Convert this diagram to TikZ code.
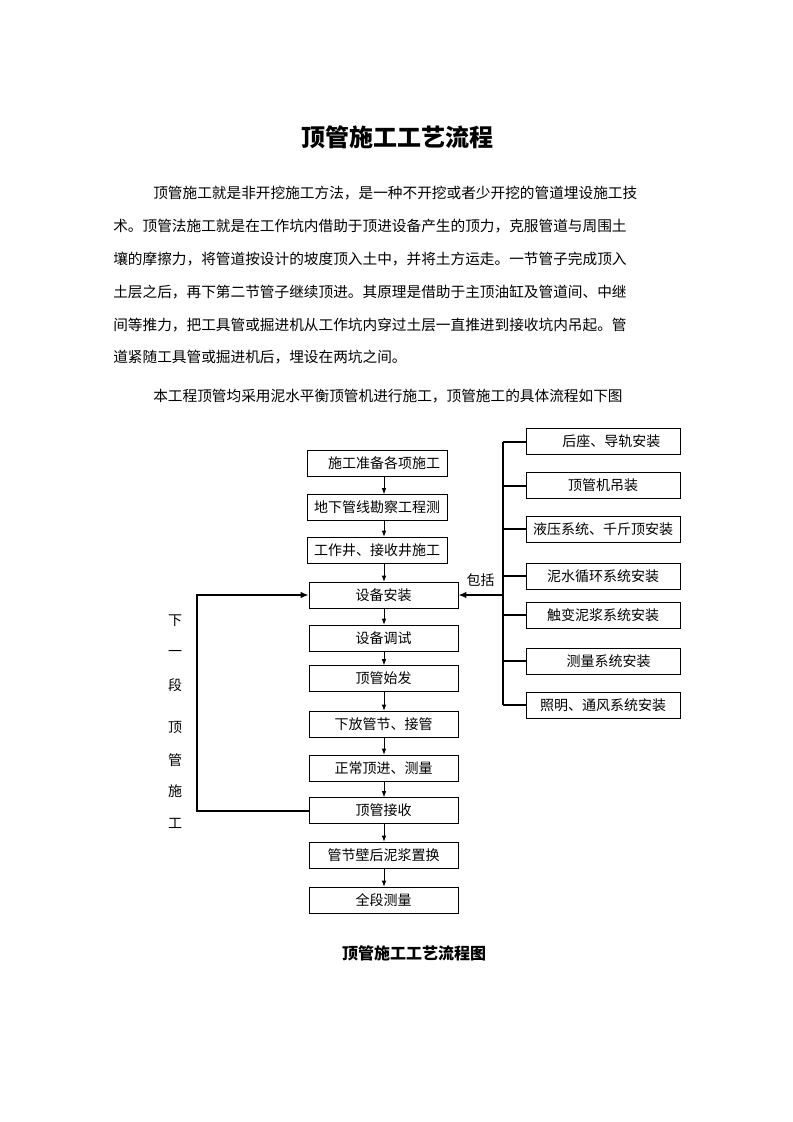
\documentclass[tikz,border=0pt]{standalone}
\usepackage{fontspec}
\setmainfont{Noto Sans CJK SC}
\XeTeXlinebreaklocale "zh"
\XeTeXlinebreakskip=0pt plus 1pt
\usetikzlibrary{arrows.meta}
\begin{document}
\begin{tikzpicture}[x=0.75pt,y=-0.75pt,
  para/.style={font=\fontsize{11}{13}\selectfont,inner sep=0pt,anchor=west},
  mbox/.style={draw,line width=0.6pt,minimum width=111.75pt,minimum height=19.5pt,inner sep=0pt,font=\fontsize{10.5}{12}\selectfont},
  tbox/.style={mbox,minimum width=105pt},
  rbox/.style={mbox,minimum width=115.5pt},
  sarr/.style={line width=0.6pt,-{Latex[length=4.5pt,width=3.5pt]}},
  thick line/.style={line width=1.5pt},
  barr/.style={line width=1.5pt,-{Latex[length=6pt,width=5pt]}},
  vchar/.style={font=\fontsize{10.5}{12}\selectfont,inner sep=0pt}]
\useasboundingbox[fill=white] (0,0) rectangle (793,1122);
% title
\node[font=\fontsize{18}{20}\selectfont\bfseries,inner sep=0pt] (title) at (397.5,137) {顶管施工工艺流程};
% paragraph
\node[para] (p1) at (153,193) {\makebox[389.25pt][s]{顶管施工就是非开挖施工方法，是一种不开挖或者少开挖的管道埋设施工技}};
\node[para] (p2) at (113,226) {\makebox[419.25pt][s]{术。顶管法施工就是在工作坑内借助于顶进设备产生的顶力，克服管道与周围土}};
\node[para] (p3) at (113,259) {\makebox[419.25pt][s]{壤的摩擦力，将管道按设计的坡度顶入土中，并将土方运走。一节管子完成顶入}};
\node[para] (p4) at (113,292) {\makebox[419.25pt][s]{土层之后，再下第二节管子继续顶进。其原理是借助于主顶油缸及管道间、中继}};
\node[para] (p5) at (113,325) {\makebox[419.25pt][s]{间等推力，把工具管或掘进机从工作坑内穿过土层一直推进到接收坑内吊起。管}};
\node[para] (p6) at (113,357) {\makebox[228pt][s]{道紧随工具管或掘进机后，埋设在两坑之间。}};
\node[para] (p7) at (153,396) {\makebox[382.5pt][s]{本工程顶管均采用泥水平衡顶管机进行施工，顶管施工的具体流程如下图}};
% main column
\coordinate (ax) at (384,0);
\node[tbox] (b1) at (377,463) {\hspace*{1em}施工准备各项施工};
\node[tbox] (b2) at (377,507.5) {地下管线勘察工程测};
\node[tbox] (b3) at (377,550) {工作井、接收井施工};
\node[mbox] (b4) at (383.5,595) {设备安装};
\node[mbox] (b5) at (383.5,638) {设备调试};
\node[mbox] (b6) at (383.5,678.5) {顶管始发};
\node[mbox] (b7) at (383.5,724) {下放管节、接管};
\node[mbox] (b8) at (383.5,768) {正常顶进、测量};
\node[mbox] (b9) at (383.5,810.5) {顶管接收};
\node[mbox] (b10) at (383.5,855) {管节壁后泥浆置换};
\node[mbox] (b11) at (383.5,900) {全段测量};
\foreach \a/\b in {b1/b2,b2/b3,b3/b4,b4/b5,b5/b6,b6/b7,b7/b8,b8/b9,b9/b10,b10/b11}
  \draw[sarr] (\a.south -| ax) -- (\b.north -| ax);
% right column
\node[rbox] (r1) at (603,441.5) {\hspace*{1.2em}后座、导轨安装};
\node[rbox] (r2) at (603,485.5) {顶管机吊装};
\node[rbox] (r3) at (603,529) {液压系统、千斤顶安装};
\node[rbox] (r4) at (603,576) {泥水循环系统安装};
\node[rbox] (r5) at (603,615) {触变泥浆系统安装};
\node[rbox] (r6) at (603,661) {\hspace*{0.8em}测量系统安装};
\node[rbox] (r7) at (603,705) {照明、通风系统安装};
\coordinate (bx) at (503,0);
\draw[thick line] (r1.west -| bx) -- (r7.west -| bx);
\foreach \r in {r1,r2,r3,r4,r5,r6,r7}
  \draw[thick line] (\r.west -| bx) -- (\r.west);
\draw[barr] (b4.east -| bx) -- (b4.east);
\node[vchar] (incl) at (480.5,580) {包括};
% left loop
\coordinate (lx) at (197,0);
\draw[barr] (b9.west) -- (b9.west -| lx) -- (b4.west -| lx) -- (b4.west);
\node[vchar] (v1) at (175,621) {下};
\node[vchar] (v2) at (175,653) {一};
\node[vchar] (v3) at (175,685) {段};
\node[vchar] (v4) at (175,727) {顶};
\node[vchar] (v5) at (175,760) {管};
\node[vchar] (v6) at (175,791) {施};
\node[vchar] (v7) at (175,823) {工};
% caption
\node[font=\fontsize{12}{14}\selectfont\bfseries,inner sep=0pt] (cap) at (414,953) {顶管施工工艺流程图};
\end{tikzpicture}
\end{document}
